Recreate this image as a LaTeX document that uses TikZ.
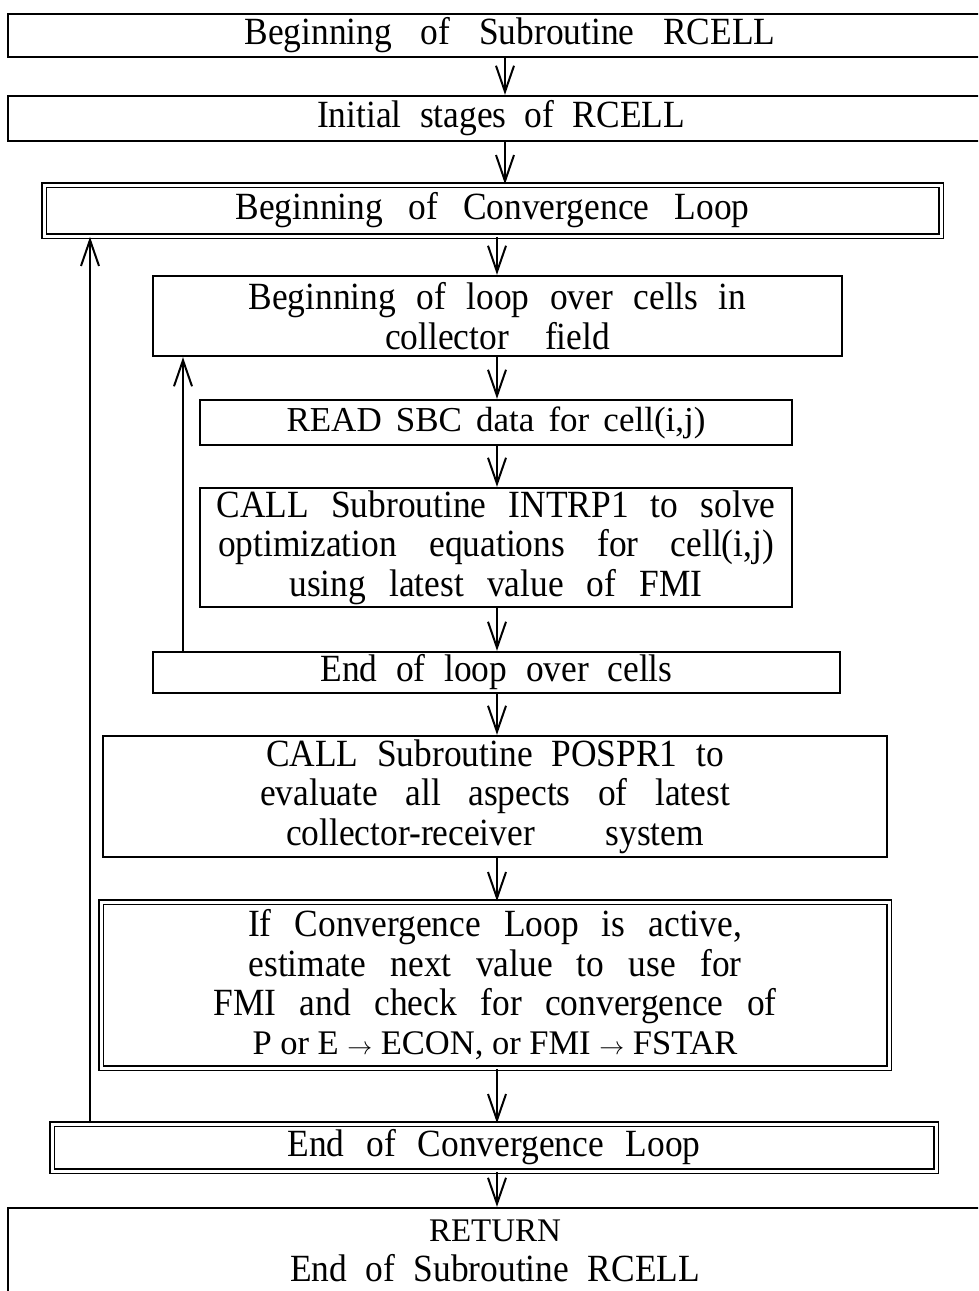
\documentclass[tikz,border=0pt]{standalone}
\usepackage{fontspec}
% slightly narrow setting of the serif face for most labels
\setmainfont{Liberation Serif}[FakeStretch=0.92]
\newfontfamily\plainface{Liberation Serif}
\usetikzlibrary{arrows.meta}
% a line of text spread to a given width (in pt) by stretching its word spaces
\newcommand\spreadline[2]{\makebox[#1pt][s]{#2}}
% the plainer face used for a few lines
\newcommand\plainline[1]{\plainface\fontsize{#1}{39.3}\selectfont}
\begin{document}
\begin{tikzpicture}[x=1pt,y=-1pt,
  box/.style={draw, line width=2.4pt, inner sep=0pt, align=center,
    font=\fontsize{38.5}{39.3}\selectfont},
  dbox/.style={box, double, line width=1.8pt, double distance=3pt},
  arr/.style={line width=2pt, -{Straight Barb[length=26pt,width=18pt]}}]
\useasboundingbox (0,0) rectangle (978,1291);
\clip (0,0) rectangle (978,1291);

% x positions of the vertical connectors
\coordinate (ax) at (505,0);
\coordinate (bx) at (497,0);
\coordinate (fi) at (183,0);
\coordinate (fo) at (90,0);

\node[box, minimum width=1004, minimum height=43] (b1) at (510,35.5)
  {\spreadline{531}{Beginning of Subroutine RCELL}};
\node[box, minimum width=986, minimum height=45] (b2) at (501,118.5)
  {\spreadline{368}{Initial stages of RCELL}};
\node[dbox, minimum width=897, minimum height=51] (b3) at (492.5,210.5)
  {\spreadline{514}{Beginning of Convergence Loop}};
\node[box, minimum width=689, minimum height=80] (b4) at (497.5,316)
  {\spreadline{498}{Beginning of loop over cells in}\\
   \spreadline{225}{collector field}};
\node[box, minimum width=592, minimum height=45] (b5) at (496,422.5)
  {{\plainline{35}\spreadline{419}{READ SBC data for cell(i,j)}}};
\node[box, minimum width=592, minimum height=119] (b6) at (496,547.5)
  {\spreadline{559}{CALL Subroutine INTRP1 to solve}\\
   \spreadline{556}{optimization equations for cell(i,j)}\\
   \spreadline{413}{using latest value of FMI}};
\node[box, minimum width=687, minimum height=41] (b7) at (496.5,672.5)
  {\spreadline{352}{End of loop over cells}};
\node[box, minimum width=784, minimum height=121] (b8) at (495,796.5)
  {\spreadline{458}{CALL Subroutine POSPR1 to}\\
   \spreadline{470}{evaluate all aspects of latest}\\
   \spreadline{418}{collector-receiver system}};
\node[dbox, minimum width=788, minimum height=166] (b9) at (495,985)
  {\spreadline{494}{If Convergence Loop is active,}\\
   \spreadline{493}{estimate next value to use for}\\
   \spreadline{563}{FMI and check for convergence of}\\
   {\plainline{34.5}\spreadline{485}{P or E \ensuremath{\rightarrow} ECON, or FMI \ensuremath{\rightarrow} FSTAR}}};
\node[dbox, minimum width=884, minimum height=47] (b10) at (494,1147.5)
  {\spreadline{413}{End of Convergence Loop}};
\node[box, minimum width=974, minimum height=86] (b11) at (495,1251)
  {{\plainline{33}RETURN}\\ \spreadline{410}{End of Subroutine RCELL}};

% main flow
\draw[arr] (b1.south -| ax) -- (b2.north -| ax);
\draw[arr] (b2.south -| ax) -- (b3.north -| ax);
\draw[arr] (b3.south -| bx) -- (b4.north -| bx);
\draw[arr] (b4.south -| bx) -- (b5.north -| bx);
\draw[arr] (b5.south -| bx) -- (b6.north -| bx);
\draw[arr] (b6.south -| bx) -- (b7.north -| bx);
\draw[arr] (b7.south -| bx) -- (b8.north -| bx);
\draw[arr] (b8.south -| bx) -- (b9.north -| bx);
\draw[arr] (b9.south -| bx) -- (b10.north -| bx);
\draw[arr] (b10.south -| bx) -- (b11.north -| bx);

% loop back-edges
\draw[arr] (b7.north -| fi) -- (b4.south -| fi);
\draw[arr] (b10.north -| fo) -- (b3.south -| fo);
\end{tikzpicture}
\end{document}
